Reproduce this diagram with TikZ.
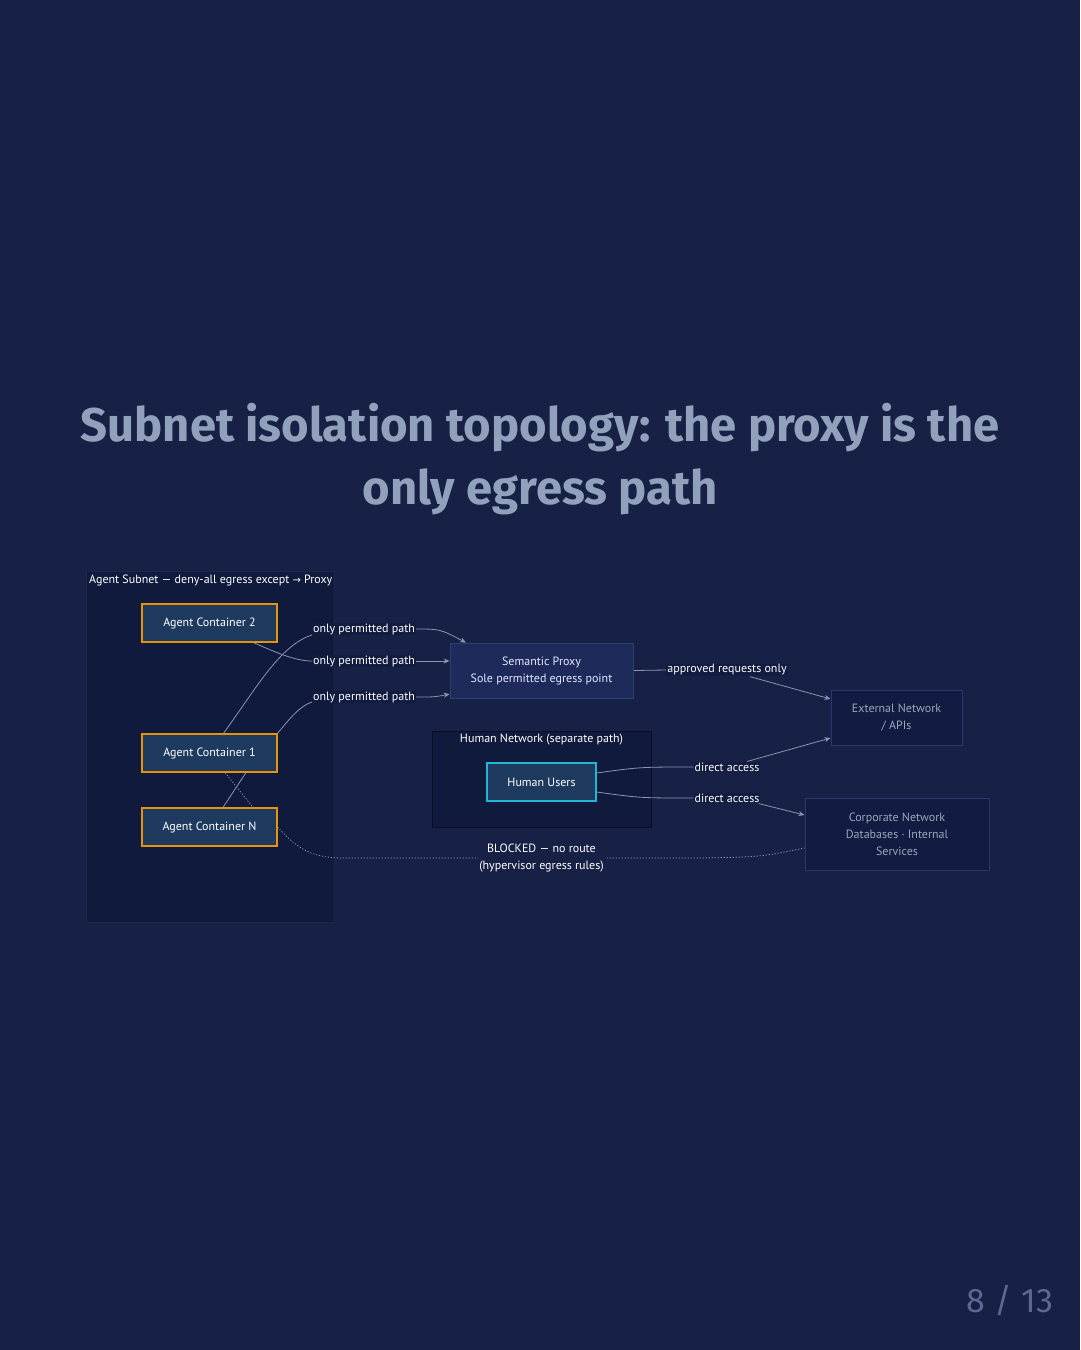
\documentclass[tikz,border=0pt]{standalone}
\usepackage{fontspec}
\setmainfont{PT Sans}
\newfontfamily\titlefont{Fira Sans}
\newfontfamily\symfont{DejaVu Sans}
\usetikzlibrary{arrows.meta}
\definecolor{pagebg}{HTML}{172045}
\definecolor{clusterbg}{HTML}{0F1A3D}
\definecolor{clusterline}{HTML}{1C2750}
\definecolor{boxfill}{HTML}{1F3A5F}
\definecolor{orangeline}{HTML}{E8920C}
\definecolor{cyanline}{HTML}{22B5D6}
\definecolor{proxyfill}{HTML}{1E2B5A}
\definecolor{proxyline}{HTML}{2D3F70}
\definecolor{extfill}{HTML}{121C42}
\definecolor{extline}{HTML}{28386A}
\definecolor{edgecol}{HTML}{8A96B2}
\definecolor{titlecol}{HTML}{91A1BB}
\definecolor{pagenum}{HTML}{5C6890}
\definecolor{labelbg}{HTML}{121B40}
\definecolor{greytext}{HTML}{9AA6BA}
\pgfdeclarelayer{bottom}
\pgfdeclarelayer{edges}
\pgfsetlayers{bottom,edges,main}
\tikzset{
  cluster/.style={draw=clusterline, fill=clusterbg, line width=0.8pt, inner sep=0pt},
  agentbox/.style={draw=orangeline, fill=boxfill, line width=1.2pt, minimum width=135pt, minimum height=38pt, text=white, font=\fontsize{12}{14}\selectfont, inner sep=0pt},
  humanbox/.style={draw=cyanline, fill=boxfill, line width=1.2pt, minimum width=109pt, minimum height=38pt, text=white, font=\fontsize{12}{14}\selectfont, inner sep=0pt},
  proxybox/.style={draw=proxyline, fill=proxyfill, line width=0.8pt, minimum width=183pt, minimum height=55pt, text=white!90!blue, font=\fontsize{12}{17}\selectfont, align=center, inner sep=0pt},
  extbox/.style={draw=extline, fill=extfill, line width=0.8pt, text=greytext, font=\fontsize{12}{17}\selectfont, align=center, inner sep=0pt},
  elabel/.style={fill=labelbg, text=white, font=\fontsize{12}{17}\selectfont, inner sep=1pt, align=center},
  ctitle/.style={text=white, font=\fontsize{12}{14}\selectfont, inner sep=0pt},
  edge/.style={draw=edgecol, line width=0.8pt},
  arrowedge/.style={edge, -{Stealth[length=6pt,width=5pt]}},
  blocked/.style={draw=edgecol, line width=0.8pt, dash pattern=on 1.2pt off 1.8pt}
}
\begin{document}
\begin{tikzpicture}[x=1pt,y=-1pt]
\begin{pgfonlayer}{bottom}
\fill[pagebg] (0,0) rectangle (1080,1350);
\node[cluster, minimum width=248pt, minimum height=351pt] (subnet) at (210,746.5) {};
\node[cluster, draw=black!40!clusterbg, minimum width=219pt, minimum height=96pt] (humannet) at (541.5,779) {};
\end{pgfonlayer}
\useasboundingbox (0,0) rectangle (1080,1350);

% title
\node[text=titlecol, font=\titlefont\bfseries\fontsize{47.2}{63}\selectfont, align=center] (title) at (540,459) {Subnet isolation topology: the proxy is the\\only egress path};

\node[ctitle, anchor=west] (subnettitle) at (89,580) {Agent Subnet — deny-all egress except {\symfont\fontsize{10}{12}\selectfont →} Proxy};
\node[ctitle] (humantitle) at (541.5,740) {Human Network (separate path)};

% nodes
\node[agentbox] (c2) at (209.5,623) {Agent Container 2};
\node[agentbox] (c1) at (209.5,753) {Agent Container 1};
\node[agentbox] (cn) at (209.5,827) {Agent Container N};
\node[proxybox] (proxy) at (541.5,670.5) {Semantic Proxy\\Sole permitted egress point};
\node[humanbox] (hu) at (541.5,782) {Human Users};
\node[extbox, minimum width=131pt, minimum height=55pt] (ext) at (896.5,717.5) {External Network\\/ APIs};
\node[extbox, minimum width=184pt, minimum height=72pt] (corp) at (897,834) {Corporate Network\\Databases · Internal\\Services};

% edge labels
\node[elabel] (l1) at (364,629) {only permitted path};
\node[elabel] (l2) at (364,661) {only permitted path};
\node[elabel] (l3) at (364,697) {only permitted path};
\node[elabel] (lapp) at (727,670) {approved requests only};
\node[elabel] (ld1) at (727,767) {direct access};
\node[elabel] (ld2) at (727,798) {direct access};
\node[elabel, fill=pagebg] (lblk) at (541.5,858) {BLOCKED — no route\\(hypervisor egress rules)};

\coordinate (bk1) at (345,858);
\coordinate (bk2) at (700,858);

\begin{pgfonlayer}{edges}
% agent containers to proxy
\draw[edge] ([xshift=14pt]c1.north) .. controls (255,690) and (280,645) .. ([yshift=-6pt]l1.west);
\draw[arrowedge] (l1.east) .. controls (440,629) .. ([xshift=-75.5pt]proxy.north);
\draw[edge] ([xshift=44pt]c2.south) .. controls (275,652) and (295,661) .. (l2.west);
\draw[arrowedge] (l2.east) -- ([yshift=9.5pt]proxy.west);
\draw[edge] (c1.north east) .. controls (290,718) and (300,706) .. ([yshift=-5pt]l3.west);
\draw[arrowedge] (l3.east) .. controls (435,697) .. ([yshift=-23.5pt]proxy.west);
\draw[edge] ([xshift=13.5pt]cn.north) -- ([xshift=36.5pt]c1.south);
\draw[blocked] ([xshift=15.5pt]c1.south) -- ([xshift=43.5pt]cn.north);
% blocked route
\draw[blocked] (cn.east) .. controls (300,852) and (315,858) .. (bk1) -- (bk2) .. controls (760,857) .. ([yshift=-14pt]corp.west);
% proxy to external
\draw[edge] (proxy.east) -- (lapp.west);
\draw[arrowedge] ([xshift=23pt]lapp.south) -- ([yshift=18.5pt]ext.west);
% human
\draw[edge] ([yshift=9pt]hu.east) .. controls (640,767) .. (ld1.west);
\draw[arrowedge] ([xshift=20pt]ld1.north) -- ([yshift=-20.5pt]ext.west);
\draw[edge] ([yshift=-10pt]hu.east) .. controls (640,798) .. (ld2.west);
\draw[arrowedge] ([xshift=-2pt]ld2.south east) -- ([yshift=19pt]corp.west);
\end{pgfonlayer}

\node[text=pagenum, font=\titlefont\fontsize{34}{40}\selectfont] (pnum) at (1010,1301) {8 / 13};
\end{tikzpicture}
\end{document}
